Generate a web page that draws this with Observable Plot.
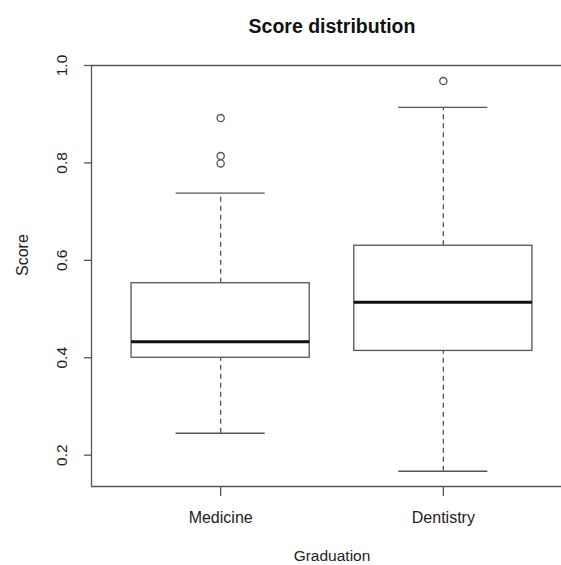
<!DOCTYPE html>
<html>
<head>
<meta charset="utf-8">
<script src="https://cdn.jsdelivr.net/npm/d3@7"></script>
<script src="https://cdn.jsdelivr.net/npm/@observablehq/plot@0.6"></script>
<style>
  html, body { margin: 0; padding: 0; background: #fff; }
  svg { font-family: "Liberation Sans", Arial, sans-serif; }
</style>
</head>
<body>
<div id="chart"></div>
<script>
// ---- data ----
const categories  = ["Medicine", "Dentistry"];
const whiskerLow  = [0.245, 0.167];
const q1          = [0.400, 0.414];
const median      = [0.433, 0.514];
const q3          = [0.553, 0.630];
const whiskerHigh = [0.738, 0.914];
const outlierGroup = ["Medicine", "Medicine", "Medicine", "Dentistry"];
const outlierValue = [0.892, 0.814, 0.799, 0.968];
const yTicks = [0.2, 0.4, 0.6, 0.8, 1.0];
const title = "Score distribution";
const xLabel = "Graduation";
const yLabel = "Score";

// ---- tables built from the arrays ----
const stats = categories.map((c, i) => ({
  cat: c, pos: i + 1,
  lo: whiskerLow[i], q1: q1[i], med: median[i], q3: q3[i], hi: whiskerHigh[i]
}));
const outliers = outlierGroup.map((g, i) => ({pos: categories.indexOf(g) + 1, v: outlierValue[i]}));

const xDomain = [0.42, 2.58];
const yDomain = [0.1357, 1.0];
const ink = "#555";
const lw = 1.3;
const boxHalf = 0.4, stapleHalf = 0.2;

const chart = Plot.plot({
  width: 561,
  height: 565,
  marginLeft: 91,
  marginRight: 0,
  marginTop: 65,
  marginBottom: 79,
  style: {fontFamily: "'Liberation Sans', Arial, sans-serif", background: "white"},
  x: {type: "linear", domain: xDomain, range: [91, 572], axis: null, label: null},
  y: {type: "linear", domain: yDomain, axis: null, label: null},
  marks: [
    // frame (left, top, bottom; right edge falls outside the picture)
    Plot.ruleY([yDomain[0], yDomain[1]], {stroke: ink, strokeWidth: lw}),
    Plot.ruleX([xDomain[0]], {stroke: ink, strokeWidth: lw}),
    // whiskers
    Plot.ruleX(stats, {x: "pos", y1: "q3", y2: "hi", stroke: ink, strokeWidth: lw, strokeDasharray: "5,4"}),
    Plot.ruleX(stats, {x: "pos", y1: "lo", y2: "q1", stroke: ink, strokeWidth: lw, strokeDasharray: "5,4"}),
    // staples
    Plot.ruleY(stats, {y: "hi", x1: d => d.pos - stapleHalf, x2: d => d.pos + stapleHalf, stroke: ink, strokeWidth: lw}),
    Plot.ruleY(stats, {y: "lo", x1: d => d.pos - stapleHalf, x2: d => d.pos + stapleHalf, stroke: ink, strokeWidth: lw}),
    // boxes
    Plot.rect(stats, {x1: d => d.pos - boxHalf, x2: d => d.pos + boxHalf, y1: "q1", y2: "q3", fill: "white", stroke: ink, strokeWidth: lw}),
    // medians
    Plot.ruleY(stats, {y: "med", x1: d => d.pos - boxHalf, x2: d => d.pos + boxHalf, stroke: "#111", strokeWidth: 3}),
    // outliers
    Plot.dot(outliers, {x: "pos", y: "v", r: 3.6, stroke: ink, strokeWidth: lw, fill: "none"}),
    // y axis ticks
    Plot.axisY({ticks: yTicks, tickSize: 7, tickFormat: () => "", label: null, stroke: ink, strokeWidth: lw}),
    Plot.text(yTicks, {y: d => d, frameAnchor: "left", text: d => d.toFixed(1), rotate: -90, dx: -29.5,
      textAnchor: "middle", lineAnchor: "middle", fontSize: 15.5, fill: "#222"}),
    // x axis ticks
    Plot.axisX({ticks: stats.map(d => d.pos), tickSize: 10, tickFormat: () => "", label: null, stroke: ink, strokeWidth: lw}),
    Plot.text(stats, {x: "pos", frameAnchor: "bottom", text: "cat", dy: 31, lineAnchor: "middle", fontSize: 16, fill: "#222"}),
    // axis titles
    Plot.text([xLabel], {x: () => (xDomain[0] + xDomain[1]) / 2, frameAnchor: "bottom", dy: 70, lineAnchor: "middle", fontSize: 15.5, fill: "#222"}),
    Plot.text([yLabel], {frameAnchor: "left", rotate: -90, dx: -68.5, lineAnchor: "middle", fontSize: 16, fill: "#222"}),
    // title
    Plot.text([title], {x: () => (xDomain[0] + xDomain[1]) / 2, frameAnchor: "top", dy: -39, lineAnchor: "middle",
      fontSize: 19.5, fontWeight: "bold", fill: "#111"})
  ]
});
document.getElementById("chart").appendChild(chart);
</script>
</body>
</html>
